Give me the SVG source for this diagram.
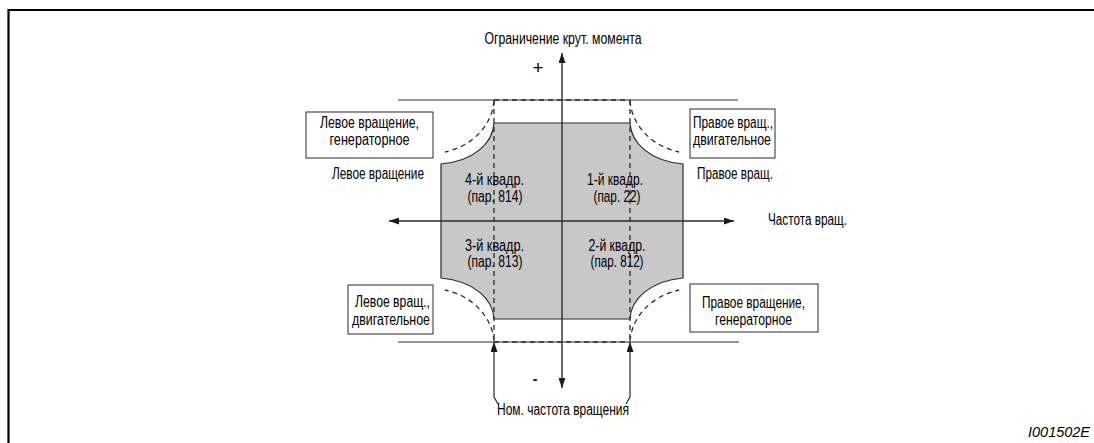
<svg xmlns="http://www.w3.org/2000/svg" width="1094" height="443" viewBox="0 0 1094 443">
<style>
text{font-family:"Liberation Sans",Arial,sans-serif;font-size:16px;fill:#000;text-anchor:middle}
.ln{stroke:#2a2a2a;stroke-width:1.2;fill:none}
.ax{stroke:#2a2a2a;stroke-width:1.4;fill:none}
.ds{stroke:#2a2a2a;stroke-width:1.3;fill:none;stroke-dasharray:5 4}
.bx{fill:#fff;stroke:#2a2a2a;stroke-width:1}
.area{fill:#c8c8c8;stroke:#2a2a2a;stroke-width:1.2}
</style>
<defs>
<marker id="ah" viewBox="0 0 10 7" refX="10" refY="3.5" markerWidth="10" markerHeight="7" markerUnits="userSpaceOnUse" orient="auto-start-reverse">
<path d="M0,0 L10,3.5 L0,7 z" fill="#1a1a1a"/>
</marker>
</defs>
<rect width="1094" height="443" fill="#fff"/>
<g id="frame"><path d="M8.5,443 L8.5,10 L1094,10" stroke="#000" stroke-width="2.2" fill="none"/></g>
<g id="region">
<path class="area" d="M494,123 L630,123 C631,143 650,161 683,164 L683,278 C650,281 631,299 630,319 L494,319 C493,299 474,281 441,278 L441,164 C474,161 493,143 494,123 Z"/>
</g>
<g id="connectors">
<path class="ln" d="M398,100 L738,100"/>
<path class="ln" d="M398,342 L739,342"/>
<path class="ds" d="M494,100 L630,100 M494,342 L630,342 M494,100 L494,342 M630,100 L630,342"/>
<path class="ds" d="M630,101 C632,126 652,146 679,152 M494,101 C492,126 472,146 445,152 M630,341 C632,316 652,296 679,290 M494,341 C492,316 472,296 445,290"/>
<path class="ax" d="M562,388 L562,53" marker-start="url(#ah)" marker-end="url(#ah)"/>
<path class="ax" d="M389,221 L734,221" marker-start="url(#ah)" marker-end="url(#ah)"/>
<path class="ln" d="M498,404 L494,397 L494,342" marker-end="url(#ah)"/>
<path class="ln" d="M626,404 L630,397 L630,342" marker-end="url(#ah)"/>
</g>
<g id="axis-labels">
<text x="563" y="44" textLength="157" lengthAdjust="spacingAndGlyphs">Ограничение крут. момента</text>
<text x="538" y="74" style="font-size:19px">+</text>
<text x="535" y="384" style="font-size:14px;font-weight:bold">-</text>
<text x="807.5" y="225" textLength="79" lengthAdjust="spacingAndGlyphs">Частота вращ.</text>
<text x="563" y="415" textLength="132" lengthAdjust="spacingAndGlyphs">Ном. частота вращения</text>
<text x="378" y="179" textLength="92" lengthAdjust="spacingAndGlyphs">Левое вращение</text>
<text x="735" y="179" textLength="76" lengthAdjust="spacingAndGlyphs">Правое вращ.</text>
</g>
<g id="box-left-gen">
<rect class="bx" x="306" y="112" width="127" height="46"/>
<text x="369.5" y="128" textLength="99" lengthAdjust="spacingAndGlyphs">Левое вращение,</text>
<text x="369.5" y="145" textLength="80" lengthAdjust="spacingAndGlyphs">генераторное</text>
</g>
<g id="box-right-mot">
<rect class="bx" x="690" y="109" width="85" height="49"/>
<text x="733" y="128" textLength="80" lengthAdjust="spacingAndGlyphs">Правое вращ.,</text>
<text x="732" y="145" textLength="78" lengthAdjust="spacingAndGlyphs">двигательное</text>
</g>
<g id="box-left-mot">
<rect class="bx" x="348" y="285" width="85" height="49"/>
<text x="392.5" y="307" textLength="75" lengthAdjust="spacingAndGlyphs">Левое вращ.,</text>
<text x="391" y="325" textLength="78" lengthAdjust="spacingAndGlyphs">двигательное</text>
</g>
<g id="box-right-gen">
<rect class="bx" x="690" y="284" width="128" height="48"/>
<text x="753.5" y="308" textLength="103" lengthAdjust="spacingAndGlyphs">Правое вращение,</text>
<text x="753.5" y="325" textLength="77" lengthAdjust="spacingAndGlyphs">генераторное</text>
</g>
<g id="q4"><text x="494.5" y="185" textLength="59" lengthAdjust="spacingAndGlyphs">4-й квадр.</text><text x="495" y="202" textLength="55" lengthAdjust="spacingAndGlyphs">(пар. 814)</text></g>
<g id="q1"><text x="615" y="185" textLength="56" lengthAdjust="spacingAndGlyphs">1-й квадр.</text><text x="617" y="202" textLength="47" lengthAdjust="spacingAndGlyphs">(пар. 22)</text></g>
<g id="q3"><text x="494.5" y="251" textLength="59" lengthAdjust="spacingAndGlyphs">3-й квадр.</text><text x="495" y="267" textLength="55" lengthAdjust="spacingAndGlyphs">(пар. 813)</text></g>
<g id="q2"><text x="617" y="251" textLength="57" lengthAdjust="spacingAndGlyphs">2-й квадр.</text><text x="617" y="267" textLength="53" lengthAdjust="spacingAndGlyphs">(пар. 812)</text></g>
<g id="ref"><text x="1059" y="437" textLength="62" lengthAdjust="spacingAndGlyphs" style="font-style:italic;font-size:14px">I001502E</text></g>
</svg>
